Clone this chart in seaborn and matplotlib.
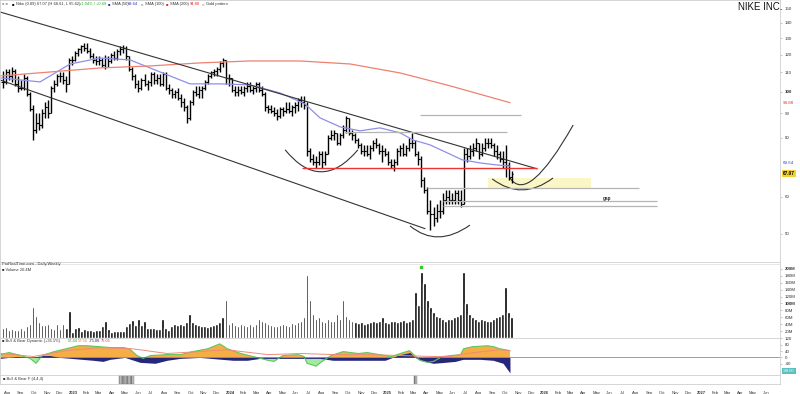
import datetime as dt
import numpy as np
import pandas as pd
import seaborn as sns
import matplotlib.pyplot as plt
from matplotlib.path import Path
from matplotlib.patches import PathPatch, Rectangle
from matplotlib.ticker import NullLocator

# weekly bars, bar 0 = week ending 2022-07-22
FIRST_WEEK = dt.date(2022, 7, 22)

HIGH = [111, 112, 112, 113, 112, 108, 106, 109, 108, 100, 94, 90, 90, 92, 95, 96, 103, 106, 109, 110,
        110, 108, 118, 119, 122, 124, 126, 127, 127, 124, 121, 119, 119, 118, 120, 119, 121, 122, 123, 125,
        126, 125, 119, 113, 109, 106, 107, 109, 106, 110, 110, 109, 109, 110, 110, 104, 102, 101, 102, 99,
        97, 94, 96, 101, 103, 103, 103, 106, 109, 111, 112, 113, 116, 118, 117, 109, 107, 103, 103, 103,
        103, 105, 105, 103, 105, 105, 103, 100, 94, 94, 93, 92, 93, 93, 95, 95, 94, 95, 97, 98,
        98, 95, 76, 74, 73, 75, 75, 75, 81, 83, 83, 82, 82, 85, 89, 88, 83, 82, 80, 78,
        77, 77, 77, 79, 80, 78, 77, 76, 75, 72, 72, 76, 77, 78, 77, 80, 82, 79, 75, 73,
        66, 63, 59, 57, 58, 59, 61, 62, 62, 61, 62, 62, 62, 76, 76, 77, 78, 80, 78, 78,
        80, 80, 80, 78, 77, 75, 75, 77, 71, 68]
LOW = [102, 104, 106, 105, 103, 100, 101, 101, 98, 91, 79, 82, 83, 84, 88, 88, 90, 100, 103, 105,
       104, 100, 104, 114, 116, 119, 121, 122, 121, 118, 115, 114, 114, 113, 112, 113, 115, 117, 117, 120,
       121, 117, 111, 106, 102, 100, 101, 103, 101, 103, 104, 104, 103, 103, 101, 99, 97, 97, 96, 93,
       91, 86, 87, 94, 98, 97, 97, 101, 104, 107, 108, 108, 110, 113, 104, 103, 100, 98, 98, 99,
       98, 100, 100, 99, 100, 100, 98, 91, 90, 90, 89, 87, 88, 89, 90, 90, 89, 90, 91, 93,
       92, 73, 71, 70, 69, 70, 69, 70, 74, 79, 79, 77, 77, 80, 82, 81, 79, 78, 76, 74,
       73, 73, 72, 75, 76, 74, 71, 73, 70, 69, 68, 70, 73, 73, 73, 75, 76, 73, 70, 63,
       61, 55, 51, 52, 53, 54, 55, 58, 58, 58, 58, 58, 57, 58, 71, 72, 73, 75, 72, 73,
       75, 76, 76, 73, 72, 71, 69, 66, 65, 64]
CLOSE = [105, 110, 108, 111, 104, 102, 102, 107, 99, 92, 83, 86, 85, 90, 93, 90, 102, 104, 108, 108,
         106, 104, 117, 117, 121, 123, 125, 124, 122, 119, 117, 116, 117, 114, 118, 116, 120, 118, 122, 123,
         124, 119, 112, 108, 104, 102, 106, 104, 105, 109, 106, 107, 104, 109, 102, 101, 99, 100, 97, 95,
         93, 88, 95, 100, 99, 101, 102, 105, 108, 110, 111, 112, 115, 117, 107, 107, 101, 100, 101, 100,
         102, 103, 101, 102, 104, 101, 99, 93, 92, 91, 90, 89, 92, 91, 92, 91, 93, 94, 96, 95,
         94, 75, 72, 71, 71, 74, 71, 74, 80, 81, 82, 78, 81, 83, 88, 82, 81, 79, 77, 75,
         75, 74, 76, 78, 77, 75, 75, 74, 71, 70, 71, 75, 76, 74, 76, 78, 78, 74, 72, 65,
         62, 56, 55, 54, 56, 56, 59, 60, 59, 59, 61, 59, 58, 74, 73, 75, 76, 78, 74, 76,
         78, 78, 77, 75, 74, 72, 71, 70, 66, 67.07]
VOLUME = [29, 31, 23, 26, 23, 23, 29, 24, 34, 40,
          89, 63, 46, 37, 37, 40, 29, 26, 40, 26,
          40, 30, 77, 17, 29, 31, 21, 26, 23, 23,
          19, 23, 23, 34, 49, 26, 17, 21, 19, 21,
          21, 34, 43, 51, 37, 54, 37, 49, 29, 29,
          29, 26, 26, 54, 29, 24, 34, 40, 37, 40,
          37, 46, 69, 45, 40, 38, 36, 34, 32, 35,
          38, 40, 45, 60, 110, 40, 45, 38, 36, 40,
          38, 36, 40, 35, 40, 55, 50, 45, 40, 38,
          36, 35, 38, 40, 38, 36, 42, 40, 45, 50,
          60, 183, 110, 70, 55, 60, 50, 45, 55, 50,
          50, 70, 55, 110, 65, 55, 50, 45, 42, 45,
          40, 42, 45, 50, 45, 48, 60, 45, 42, 48,
          50, 45, 48, 52, 45, 50, 55, 134, 95, 191,
          160, 110, 90, 75, 65, 60, 55, 50, 55, 55,
          60, 65, 70, 191, 100, 70, 60, 55, 50, 55,
          52, 50, 48, 55, 60, 65, 70, 149, 75, 60]

# moving averages (week index, price)
SMA50_X = [-1, 12.3, 22.3, 32.2, 42.2, 52.2, 62.1, 72.1, 82.1, 92.0, 100.3, 105.3, 112.0, 118.6,
           125.2, 131.9, 136.2, 141.9, 147.5, 152.5, 158.5, 164.1, 168.4]
SMA50 = [107.1, 105.0, 114.6, 118.0, 116.9, 110.2, 104.0, 104.0, 103.5, 99.5, 94.3, 88.1, 84.3, 82.7,
         83.9, 81.9, 79.1, 77.2, 74.3, 71.8, 70.7, 70.0, 69.64]
SMA200_X = [-1, 15.6, 32.2, 48.8, 65.4, 82.1, 98.7, 115.3, 131.9, 148.5, 168.4]
SMA200 = [108.1, 110.2, 112.4, 113.5, 115.2, 116.3, 116.3, 114.6, 109.7, 103.0, 94.88]

# Bull & Bear oscillator
BULL_X = [-1, 2, 6, 9, 11, 13, 17, 21, 25, 28, 32, 36, 40, 42, 44.5, 46.5, 49, 54.5, 59, 63, 68, 72,
          74.5, 79, 83, 88, 90, 93, 98, 100, 101, 104, 106, 109, 113, 118, 121, 125, 129, 132, 135,
          138.5, 141, 143, 146, 152, 153, 156, 161, 163, 165, 168.4]
BULL = [18, 31, 12, -6, -37, 12, 37, 55, 74, 74, 68, 62, 62, 55, 12, -6, 12, 18, 18, 37, 55, 86,
        55, 25, 6, -18, -25, 12, 18, 6, -37, -55, -25, 12, 37, 25, 31, 18, 6, 25, 43,
        -18, -31, -25, 6, 18, 55, 68, 74, 68, 55, 43]
BEAR_X = [-1, 4.7, 9, 13.3, 15.6, 18.9, 29.9, 33.2, 35.5, 40.5, 45.5, 50.5, 54.5, 58.8, 65.4, 76.4,
          81.1, 85.4, 95.3, 105.3, 109.6, 118.6, 126.9, 130.2, 131.9, 135.2, 136.9, 138.5, 142.9,
          146.8, 150.2, 152.8, 158.5, 162.8, 166.1, 168.4]
BEAR = [-6, 6, 0, 12, 12, 0, -18, -25, -12, 0, -31, -37, -18, -6, 0, -18,
        -18, -6, -6, -6, -18, -18, -18, 6, 18, 31, 0, -18, -37,
        -31, -25, -12, -12, -18, -37, -98]
SIGNAL_X = [-1, 10, 21, 32, 43, 54.5, 65, 74, 88, 99, 110, 121, 132, 143, 148.5, 154, 165, 168.4]
SIGNAL = [25, 6, 43, 62, 55, 25, 37, 49, 18, 25, 18, 18, 12, 6, 6, 25, 49, 43]

FLAG_WEEKS = [39, 40, 41, 42, 43, 137]

# drawn annotations (week index, price)
CHANNEL_TOP = ([-1.0, 177.4], [147.7, 68.7])
CHANNEL_BOTTOM = ([-1.0, 140.2], [106.0, 51.3])
RED_LEVEL = (99.3, 177.4, 69.0)
GRAY_LEVELS = [(138.5, 172.1, 89.4), (113.6, 167.4, 82.3), (140.9, 211.3, 62.6),
               (146.2, 217.3, 58.8), (146.2, 217.3, 57.3)]
ZONE = (161.1, 195.3, 62.6, 65.7)
ARCS = [[(93.7, 75.4), (105.6, 60.8), (117.9, 75.4)],
        [(135.2, 52.0), (144.2, 46.6), (155.1, 52.2)],
        [(162.5, 65.4), (172.4, 58.6), (182.7, 65.7)],
        [(168.4, 65.7), (174.4, 57.6), (189.4, 85.1)]]

PRICE_TICKS = [50, 60, 80, 90, 100, 110, 120, 130, 140, 150]
VOL_TICKS = [20, 40, 60, 80, 100, 120, 140, 160, 180, 200]
IND_TICKS = [-40, 0, 40, 80, 120]

sns.set_style('white')
plt.rcParams['font.family'] = ['Liberation Sans', 'DejaVu Sans']

idx = np.arange(len(CLOSE))
opens = [CLOSE[0]] + CLOSE[:-1]
XMIN, XMAX = -1.0, 258.1
W = 0.975
H = 394

def band(top_px, bottom_px):
    return [0, 1 - bottom_px / H, W, (bottom_px - top_px) / H]

fig = plt.figure(figsize=(8, 3.94), dpi=100)
ax_p = fig.add_axes(band(0, 262))
ax_v = fig.add_axes(band(262, 338))
ax_i = fig.add_axes(band(338, 375))
ax_s = fig.add_axes(band(375, 384))

for ax in [ax_p, ax_v, ax_i, ax_s]:
    for s in ax.spines.values():
        s.set_color('#cfcfcf')
        s.set_linewidth(0.6)
    ax.yaxis.tick_right()
    ax.tick_params(axis='y', labelsize=3.2, length=1.5, width=0.4, color='#999999', pad=2,
                   labelcolor='#333333')
    ax.tick_params(axis='x', bottom=False, labelbottom=False)

# ---- price panel
ax_p.set_yscale('log')
ax_p.vlines(idx, LOW, HIGH, color='black', lw=1.0)
ax_p.hlines(CLOSE, idx, idx + 0.55, color='black', lw=0.8)
ax_p.hlines(opens, idx - 0.55, idx, color='black', lw=0.8)

sns.lineplot(x=SMA50_X, y=SMA50, ax=ax_p, color='#8f8fe8', lw=0.9)
sns.lineplot(x=SMA200_X, y=SMA200, ax=ax_p, color='#f08070', lw=0.9)

ax_p.plot(*CHANNEL_TOP, color='#333333', lw=0.8)
ax_p.plot(*CHANNEL_BOTTOM, color='#333333', lw=0.8)
ax_p.hlines(RED_LEVEL[2], RED_LEVEL[0], RED_LEVEL[1], color='#ee3333', lw=1.0)
for x0, x1, lvl in GRAY_LEVELS:
    ax_p.hlines(lvl, x0, x1, color='#b5b5b5', lw=0.9)
ax_p.add_patch(Rectangle((ZONE[0], ZONE[2]), ZONE[1] - ZONE[0], ZONE[3] - ZONE[2],
                         facecolor='#fbf4b8', edgecolor='none', alpha=0.8, zorder=0))
for p0, p1, p2 in ARCS:
    path = Path([p0, p1, p2], [Path.MOVETO, Path.CURVE3, Path.CURVE3])
    ax_p.add_patch(PathPatch(path, facecolor='none', edgecolor='#333333', lw=0.8))
ax_p.text(199.3, 59.3, 'gap', fontsize=3.3, fontweight='bold', ha='left', va='center')

ax_p.set_ylim(43.6, 156.6)
ax_p.set_yticks(PRICE_TICKS)
ax_p.set_yticklabels([str(t) for t in PRICE_TICKS])
ax_p.yaxis.set_minor_locator(NullLocator())
for lbl, t in zip(ax_p.get_yticklabels(), PRICE_TICKS):
    if t == 100:
        lbl.set_fontweight('bold')
ytr = ax_p.get_yaxis_transform()
ax_p.text(1.004, SMA200[-1], f'{SMA200[-1]:.2f}', transform=ytr, fontsize=3.2, color='#e03030',
          va='center', ha='left')
ax_p.text(1.004, SMA50[-1] + 0.9, f'{SMA50[-1]:.2f}', transform=ytr, fontsize=3.2, color='#4040c0',
          va='center', ha='left')
ax_p.text(1.004, CLOSE[-1], f'{CLOSE[-1]:.2f}', transform=ytr, fontsize=3.4, color='black',
          fontweight='bold', va='center', ha='left',
          bbox=dict(boxstyle='square,pad=0.25', fc='#f5d130', ec='none'))
ax_p.set_xlim(XMIN, XMAX)

# ---- volume panel
sns.barplot(x=idx, y=VOLUME, color='black', saturation=1, width=0.85, errorbar=None, ax=ax_v)
top_week = int(np.argmax(VOLUME))
ax_v.scatter([top_week], [VOLUME[top_week] + 14], marker='s', s=3, color='#33cc33', zorder=3)
ax_v.set_ylim(0, 220)
ax_v.set_yticks(VOL_TICKS)
ax_v.set_yticklabels([f'{t}M' for t in VOL_TICKS])
for lbl, t in zip(ax_v.get_yticklabels(), VOL_TICKS):
    if t in (100, 200):
        lbl.set_fontweight('bold')
ax_v.axhline(214, color='#dddddd', lw=0.5)
ax_v.set_xlabel('')
ax_v.set_ylabel('')
ax_v.set_xlim(XMIN, XMAX)
ax_v.tick_params(axis='x', bottom=False, labelbottom=False)

# ---- bull & bear panel
bx = np.array(BULL_X)
by = np.array(BULL)
ax_i.fill_between(bx, 0, by, where=by >= 0, interpolate=True, color='#f6ad45', lw=0)
ax_i.fill_between(bx, 0, by, where=by < 0, interpolate=True, color='#a6e8a0', lw=0)
ax_i.plot(bx, by, color='#5cc85c', lw=0.8)
ax_i.fill_between(BEAR_X, 0, BEAR, color='#27277a', lw=0)
sns.lineplot(x=SIGNAL_X, y=SIGNAL, ax=ax_i, color='#f08a7a', lw=0.7)
ax_i.axhline(0, color='#555555', lw=0.4)
ax_i.set_ylim(-111, 123)
ax_i.set_yticks(IND_TICKS)
ax_i.set_yticklabels([str(t) for t in IND_TICKS])
ax_i.text(1.004, BEAR[-1] + 12, f'{BEAR[-1]:.2f}', transform=ax_i.get_yaxis_transform(),
          fontsize=3, color='white', va='center', ha='left',
          bbox=dict(boxstyle='square,pad=0.2', fc='#5bbfc0', ec='none'))
ax_i.set_xlim(XMIN, XMAX)

# ---- flag panel
ax_s.bar(FLAG_WEEKS, [1] * len(FLAG_WEEKS), width=1.0, color='#b8b8b8', edgecolor='#7a7a7a',
         hatch='||||', lw=0.3)
ax_s.set_ylim(0, 1)
ax_s.set_yticks([])
ax_s.set_xlim(XMIN, XMAX)

# month axis
ticks, labels = [], []
for y in range(2022, 2028):
    for m in range(1, 13):
        d = dt.date(y, m, 1)
        pos = (d - FIRST_WEEK).days / 7
        if XMIN < pos < XMAX - 1:
            ticks.append(pos)
            labels.append(str(y) if m == 1 else d.strftime('%b'))
ax_s.set_xticks(ticks)
ax_s.set_xticklabels(labels)
ax_s.tick_params(axis='x', bottom=False, labelbottom=True, labelsize=3.0, pad=1.2,
                 labelcolor='#333333')
for lbl in ax_s.get_xticklabels():
    if lbl.get_text().isdigit():
        lbl.set_fontweight('bold')

# header texts
def ftext(px, py, s, **kw):
    kw.setdefault('fontsize', 2.9)
    kw.setdefault('color', '#333333')
    fig.text(px / 800, 1 - py / H, s, va='center', ha='left', **kw)

ftext(2, 4, '\u25a0 \u25a0', color='#aaaaaa')
ftext(12, 4, '\u25a0', color='black')
ftext(16, 4, 'Nike (0.89) 67.07 (H 68.61, L 65.62)')
ftext(79, 4, '+1.04% / +0.69', color='#22aa22')
ftext(108, 4, '\u25a0', color='#3030c0')
ftext(112, 4, 'SMA (50)')
ftext(128, 4, '69.64', color='#3030c0')
ftext(141, 4, '\u25a0', color='#bbbbbb')
ftext(145, 4, 'SMA (100)')
ftext(166, 4, '\u25a0', color='#ee2222')
ftext(170, 4, 'SMA (200)')
ftext(190, 4, '94.88', color='#ee2222')
ftext(202, 4, '\u25a0', color='#cccccc')
ftext(206, 4, 'Gold pattern')
fig.text(782 / 800, 1 - 2 / H, 'NIKE INC.', fontsize=7, ha='right', va='top', color='#111111')

ftext(2, 264, 'ProRealTime.com - Daily/Weekly')
ftext(2, 270, '\u25a0 Volume 20.4M')
ftext(2, 341, '\u25a0 Bull & Bear Dynamic (+35.1%)')
ftext(68, 341, '57.44', color='#22aa22')
ftext(78, 341, '57.56', color='#e08020')
ftext(89, 341, '-75.06', color='#27277a')
ftext(101, 341, '75.05', color='#ee3333')
ftext(3, 379, '\u25a0 Bull & Bear F (4,4,4)')

fig.savefig('out.png', dpi=100, facecolor='white')
